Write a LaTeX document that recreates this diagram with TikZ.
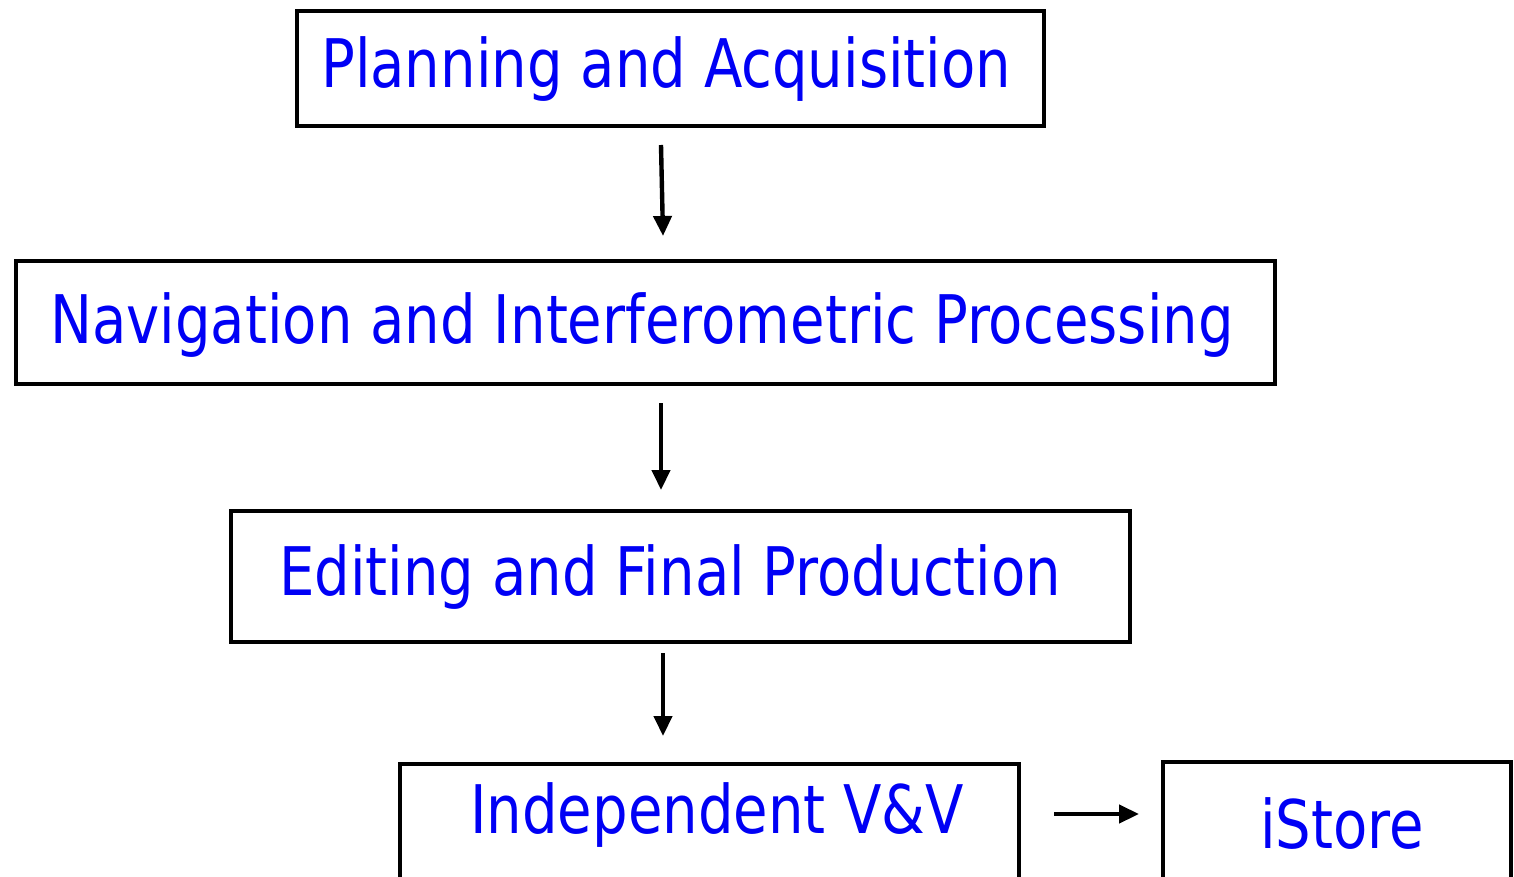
\documentclass[tikz,border=0pt]{standalone}
\usepackage{fontspec}
\setmainfont{DejaVu Sans}[FakeStretch=0.837]
\usetikzlibrary{arrows.meta}
\definecolor{txtblue}{RGB}{0,0,245}
\begin{document}
\begin{tikzpicture}[x=1pt,y=-1pt,
  box/.style={draw=black,line width=4.6pt,fill=none},
  lbl/.style={inner sep=0pt,anchor=base west,text=txtblue,font=\fontsize{67}{67}\selectfont},
  arr/.style={line width=4.4pt,-{Triangle[length=20pt,width=18pt]}}]
\useasboundingbox (0,0) rectangle (1514,877);
\begin{scope}
\clip (0,0) rectangle (1514,877);
\draw[box] (297,11) rectangle (1044,126);
\draw[box] (16,261) rectangle (1275,384);
\draw[box] (231,511) rectangle (1130,642);
\draw[box] (400,764) rectangle (1019,895);
\draw[box] (1163,762) rectangle (1511,895);
\end{scope}
\node[lbl] (t1) at (321,88) {Planning and Acquisition};
\node[lbl] (t2) at (50,343) {Navigation and Interferometric Processing};
\node[lbl] (t3) at (279,595) {Editing and Final Production};
\node[lbl] (t4) at (470,833) {Independent V\&V};
\node[lbl] (t5) at (1260,848) {iStore};
\coordinate (a1s) at (661,145); \coordinate (a1e) at (663,236);
\coordinate (a2s) at (661,403); \coordinate (a2e) at (661,490);
\coordinate (a3s) at (663,653); \coordinate (a3e) at (663,736);
\coordinate (a4s) at (1054,814); \coordinate (a4e) at (1139,814);
\draw[arr] (a1s) -- (a1e);
\draw[arr] (a2s) -- (a2e);
\draw[arr] (a3s) -- (a3e);
\draw[arr] (a4s) -- (a4e);
\end{tikzpicture}
\end{document}
